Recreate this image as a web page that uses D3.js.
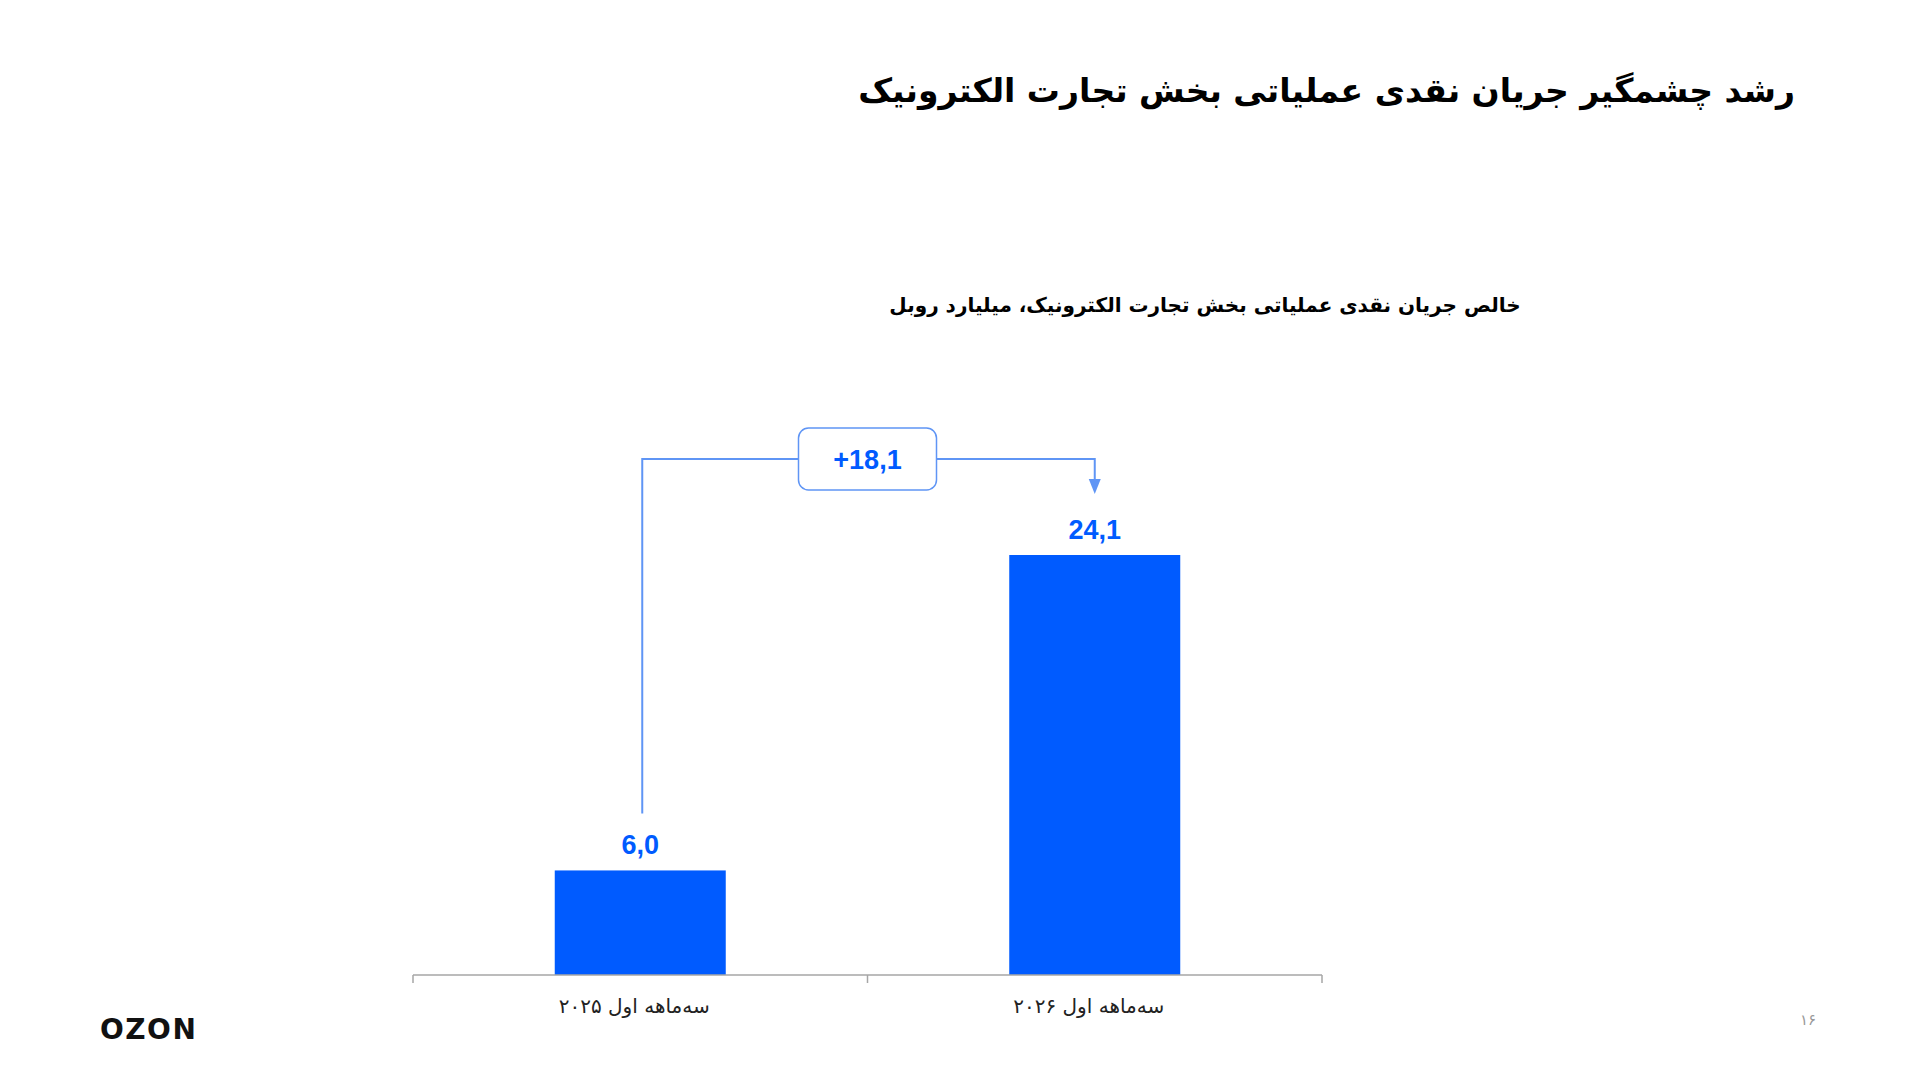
<!DOCTYPE html>
<html lang="fa">
<head>
<meta charset="utf-8">
<title>رشد چشمگیر جریان نقدی عملیاتی</title>
<script src="https://cdn.jsdelivr.net/npm/d3@7"></script>
<style>
  body { margin: 0; background: #ffffff; }
  svg { display: block; }
  .fa { font-family: "DejaVu Sans", sans-serif; }
  .num { font-family: "Liberation Sans", Arial, sans-serif; font-weight: bold; }
</style>
</head>
<body>
<script>
// data
var categories = ["سه‌ماهه اول ۲۰۲۵", "سه‌ماهه اول ۲۰۲۶"];
var values = [6.0, 24.1];
var valueLabels = ["6,0", "24,1"];
var deltaLabel = "+18,1";
var titleText = "رشد چشمگیر جریان نقدی عملیاتی بخش تجارت الکترونیک";
var subtitleText = "خالص جریان نقدی عملیاتی بخش تجارت الکترونیک، میلیارد روبل";
var pageNumber = "۱۶";

var w = 1920, h = 1080;
var blue = "#005bff";
var lineBlue = "#5f95f5";

var svg = d3.select("body").append("svg")
  .attr("width", w)
  .attr("height", h);

// layout of plot
var x0 = 413, x1 = 1322;
var baseY = 975;

var xScale = d3.scaleBand()
  .domain(categories)
  .range([x0, x1])
  .padding(0);

var yScale = d3.scaleLinear()
  .domain([0, 24.1])
  .range([baseY, 555]);

var barW = 171;

//Title
svg.append("text")
  .attr("class", "fa")
  .attr("x", 1795)
  .attr("y", 102)
  .attr("direction", "rtl")
  .attr("text-anchor", "start")
  .attr("font-size", 33)
  .attr("font-weight", "bold")
  .attr("fill", "#000")
  .text(titleText);

//Subtitle
svg.append("text")
  .attr("class", "fa")
  .attr("x", 1205)
  .attr("y", 312)
  .attr("direction", "rtl")
  .attr("text-anchor", "middle")
  .attr("font-size", 20)
  .attr("font-weight", "bold")
  .attr("fill", "#000")
  .text(subtitleText);

//Bars
svg.selectAll("rect.bar")
  .data(values)
  .enter()
  .append("rect")
  .attr("class", "bar")
  .attr("x", function(d, i) {
    return xScale(categories[i]) + xScale.bandwidth() / 2 - barW / 2;
  })
  .attr("y", function(d) { return yScale(d); })
  .attr("width", barW)
  .attr("height", function(d) { return baseY - yScale(d); })
  .attr("fill", blue);

//Value labels
svg.selectAll("text.val")
  .data(values)
  .enter()
  .append("text")
  .attr("class", "val num")
  .attr("x", function(d, i) { return xScale(categories[i]) + xScale.bandwidth() / 2; })
  .attr("y", function(d) { return yScale(d) - 16; })
  .attr("text-anchor", "middle")
  .attr("font-size", 27)
  .attr("fill", blue)
  .text(function(d, i) { return valueLabels[i]; });

//Axis line with boundary ticks
var axisG = svg.append("g").attr("stroke", "#a6a6a6").attr("stroke-width", 1.5);
axisG.append("line")
  .attr("x1", x0).attr("x2", x1)
  .attr("y1", baseY).attr("y2", baseY);
var tickXs = categories.map(function(c) { return xScale(c); }).concat([x1]);
axisG.selectAll("line.tick")
  .data(tickXs)
  .enter()
  .append("line")
  .attr("class", "tick")
  .attr("x1", function(d) { return d; })
  .attr("x2", function(d) { return d; })
  .attr("y1", baseY)
  .attr("y2", baseY + 8);

//Category labels
svg.selectAll("text.cat")
  .data(categories)
  .enter()
  .append("text")
  .attr("class", "cat fa")
  .attr("x", function(d) { return xScale(d) + xScale.bandwidth() / 2 - 6; })
  .attr("y", baseY + 38)
  .attr("direction", "rtl")
  .attr("text-anchor", "middle")
  .attr("font-size", 20)
  .attr("fill", "#222")
  .text(function(d) { return d; });

//Difference bracket
var cx1 = xScale(categories[0]) + xScale.bandwidth() / 2 + 2;
var cx2 = xScale(categories[1]) + xScale.bandwidth() / 2;
var midX = x0 + (x1 - x0) / 2;
var brY = 459;
var boxW = 138, boxH = 62;

svg.append("path")
  .attr("d", "M" + cx1 + "," + (yScale(values[0]) - 57) +
             "L" + cx1 + "," + brY +
             "L" + (midX - boxW / 2) + "," + brY)
  .attr("fill", "none")
  .attr("stroke", lineBlue)
  .attr("stroke-width", 2);

svg.append("path")
  .attr("d", "M" + (midX + boxW / 2) + "," + brY +
             "L" + cx2 + "," + brY +
             "L" + cx2 + "," + (brY + 24))
  .attr("fill", "none")
  .attr("stroke", lineBlue)
  .attr("stroke-width", 2);

svg.append("path")
  .attr("d", "M" + (cx2 - 6) + "," + (brY + 20) + "L" + (cx2 + 6) + "," + (brY + 20) + "L" + cx2 + "," + (brY + 35) + "Z")
  .attr("fill", lineBlue);

svg.append("rect")
  .attr("x", midX - boxW / 2)
  .attr("y", brY - boxH / 2)
  .attr("width", boxW)
  .attr("height", boxH)
  .attr("rx", 10)
  .attr("fill", "#fff")
  .attr("stroke", lineBlue)
  .attr("stroke-width", 1.5);

svg.append("text")
  .attr("class", "num")
  .attr("x", midX)
  .attr("y", brY + 10)
  .attr("text-anchor", "middle")
  .attr("font-size", 27)
  .attr("fill", blue)
  .text(deltaLabel);

//Logo
svg.append("text")
  .attr("x", 100)
  .attr("y", 1039)
  .attr("font-family", "'DejaVu Sans', sans-serif")
  .attr("font-weight", "bold")
  .attr("font-size", 28)
  .attr("letter-spacing", 1.5)
  .attr("fill", "#111")
  .text("OZON");

//Page number
svg.append("text")
  .attr("class", "fa")
  .attr("x", 1808)
  .attr("y", 1025)
  .attr("text-anchor", "middle")
  .attr("font-size", 15)
  .attr("fill", "#999")
  .text(pageNumber);
</script>
</body>
</html>
